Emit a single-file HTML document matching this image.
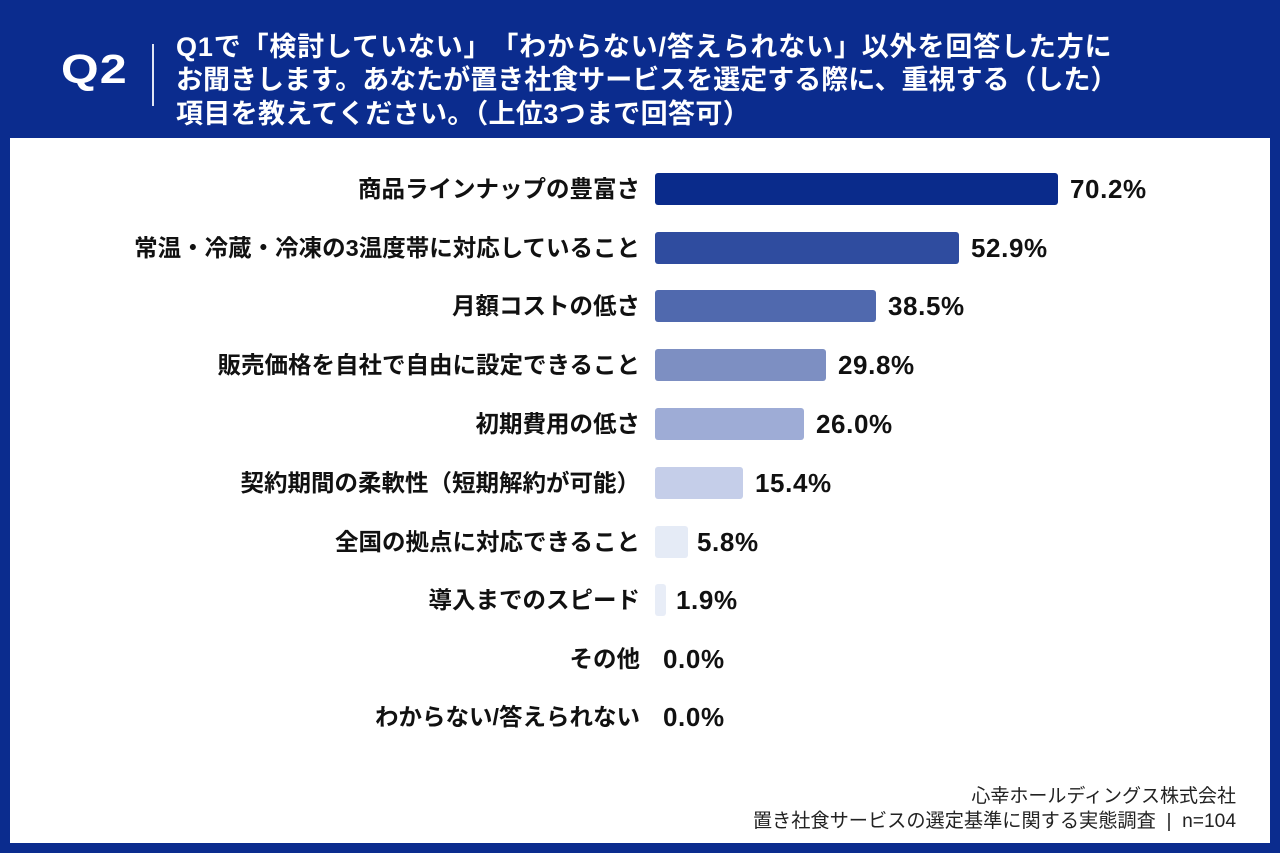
<!DOCTYPE html>
<html>
<head>
<meta charset="utf-8">
<style>
  html,body{margin:0;padding:0;}
  *{text-spacing-trim:space-all;}
  body{width:1280px;height:853px;background:#0b2c8e;position:relative;overflow:hidden;
       font-family:"Liberation Sans","Noto Sans CJK JP",sans-serif;}
  .q2{position:absolute;left:61px;top:47px;font-size:41px;font-weight:bold;color:#fff;
      line-height:44px;transform:scaleX(1.18);transform-origin:left top;letter-spacing:1px;}
  .vline{position:absolute;left:152px;top:44px;width:2px;height:62px;background:#dfe5f3;}
  .title{position:absolute;left:176px;font-size:27px;font-weight:bold;color:#fff;
         line-height:34px;white-space:nowrap;}
  .panel{position:absolute;left:10px;top:138px;width:1260px;height:705px;background:#fff;}
  .label{position:absolute;right:640px;font-size:23.5px;font-weight:bold;color:#111;
         white-space:nowrap;line-height:32px;text-align:right;}
  .bar{position:absolute;left:655px;height:32px;border-radius:3px;}
  .val{position:absolute;font-size:26px;font-weight:bold;color:#111;line-height:32px;
       letter-spacing:0.6px;white-space:nowrap;}
  .foot{position:absolute;right:44px;font-size:19px;color:#222;white-space:nowrap;line-height:24px;text-align:right;}
</style>
</head>
<body>
  <div class="q2">Q2</div>
  <div class="vline"></div>
  <div class="title" style="top:30px;letter-spacing:0.85px;">Q1で「検討していない」「わからない/答えられない」以外を回答した方に</div>
  <div class="title" style="top:63px;">お聞きします。あなたが置き社食サービスを選定する際に、重視する（した）</div>
  <div class="title" style="top:97px;text-spacing-trim:normal;letter-spacing:0.35px;">項目を教えてください。（上位3つまで回答可）</div>

  <div class="panel"></div>

  <div class="label" style="top:173px;">商品ラインナップの豊富さ</div>
  <div class="bar" style="top:173px;width:403px;background:#0a2b8b;"></div>
  <div class="val" style="top:173px;left:1070px;">70.2%</div>

  <div class="label" style="top:232px;">常温・冷蔵・冷凍の3温度帯に対応していること</div>
  <div class="bar" style="top:232px;width:304px;background:#2f4c9f;"></div>
  <div class="val" style="top:232px;left:971px;">52.9%</div>

  <div class="label" style="top:290px;">月額コストの低さ</div>
  <div class="bar" style="top:290px;width:221px;background:#5069ae;"></div>
  <div class="val" style="top:290px;left:888px;">38.5%</div>

  <div class="label" style="top:349px;">販売価格を自社で自由に設定できること</div>
  <div class="bar" style="top:349px;width:171px;background:#7d8fc2;"></div>
  <div class="val" style="top:349px;left:838px;">29.8%</div>

  <div class="label" style="top:408px;">初期費用の低さ</div>
  <div class="bar" style="top:408px;width:149px;background:#9eacd6;"></div>
  <div class="val" style="top:408px;left:816px;">26.0%</div>

  <div class="label" style="top:467px;">契約期間の柔軟性（短期解約が可能）</div>
  <div class="bar" style="top:467px;width:88px;background:#c5cee9;"></div>
  <div class="val" style="top:467px;left:755px;">15.4%</div>

  <div class="label" style="top:526px;">全国の拠点に対応できること</div>
  <div class="bar" style="top:526px;width:33px;background:#e5ebf6;"></div>
  <div class="val" style="top:526px;left:697px;">5.8%</div>

  <div class="label" style="top:584px;">導入までのスピード</div>
  <div class="bar" style="top:584px;width:11px;background:#e8edf7;"></div>
  <div class="val" style="top:584px;left:676px;">1.9%</div>

  <div class="label" style="top:643px;">その他</div>
  <div class="val" style="top:643px;left:663px;">0.0%</div>

  <div class="label" style="top:701px;">わからない/答えられない</div>
  <div class="val" style="top:701px;left:663px;">0.0%</div>

  <div class="foot" style="top:785px;">心幸ホールディングス株式会社</div>
  <div class="foot" style="top:810px;font-size:19.2px;">置き社食サービスの選定基準に関する実態調査&nbsp;&nbsp;|&nbsp;&nbsp;n=104</div>
</body>
</html>
